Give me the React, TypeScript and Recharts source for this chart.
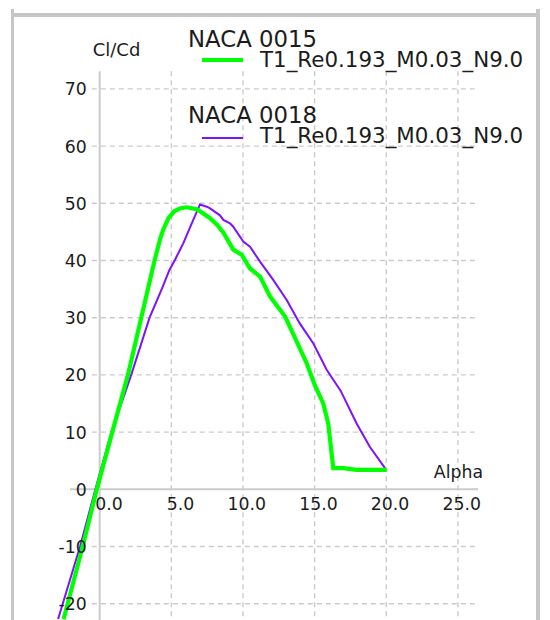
import React from 'react';
import { LineChart, Line, XAxis, YAxis, ReferenceLine, ReferenceDot } from 'recharts';

// polar NACA 0015 (Cl/Cd vs alpha)
const alpha0015 = [-2.6, -1.19, -0.2, 0.88, 1.97, 2.9, 3.83, 4.2, 4.45, 4.8, 5.2, 5.6, 6.07, 6.77, 7.0, 7.7, 8.2, 8.65, 9.32, 9.91, 10.49, 11.19, 11.89, 12.94, 13.75, 14.45, 15.0, 15.6, 15.95, 16.3, 17.0, 17.93, 20.03];
const clcd0015 = [-23.5, -10, 0, 10, 20, 30, 40, 43.6, 45.5, 47.4, 48.6, 49.1, 49.3, 48.95, 48.6, 47.4, 46.2, 44.8, 41.9, 41.0, 38.6, 37.2, 33.7, 30.2, 25.8, 22.0, 18.3, 15.0, 11.5, 3.7, 3.7, 3.4, 3.4];

// polar NACA 0018
const alpha0018 = [-3.0, -1.37, -0.3, 0.82, 2.2, 3.48, 4.33, 4.86, 5.25, 5.83, 6.53, 7.0, 7.47, 7.7, 8.39, 8.63, 9.09, 9.32, 10.02, 10.49, 11.19, 12.11, 13.05, 13.96, 14.91, 15.84, 16.82, 17.93, 18.86, 19.91];
const clcd0018 = [-23.5, -10, 0, 10, 20, 30, 35, 38.3, 40.1, 43.0, 47.1, 49.8, 49.4, 49.1, 47.9, 47.1, 46.5, 45.9, 43.3, 42.4, 39.8, 36.6, 33.1, 29.0, 25.5, 20.9, 17.2, 11.5, 7.4, 3.7];

const xTicks = [0, 5, 10, 15, 20, 25];
const yTicks = [-20, -10, 0, 10, 20, 30, 40, 50, 60, 70];
const foilNames = ['NACA 0015', 'NACA 0018'];
const polarName = 'T1_Re0.193_M0.03_N9.0';
const foilColors = ['#00ff00', '#7d12ff'];

const toRows = (a: number[], v: number[]) => a.map((x, i) => ({ alpha: x, clcd: v[i] }));
const rows0015 = toRows(alpha0015, clcd0015);
const rows0018 = toRows(alpha0018, clcd0018);

// axis view (chart fills the whole 550x620 page)
const X_DOMAIN: [number, number] = [-6.957, 31.424];
const Y_DOMAIN: [number, number] = [-22.85, 85.54];
const X_AXIS_MIN = -2.07;
const X_AXIS_MAX = 26.4;
const Y_AXIS_MAX = 73.1;
const GRID_LEFT = -0.55;

const FONT = '"DejaVu Sans", sans-serif';
const GRID = '#cbcbcb';
const TEXT = '#1c1c1c';

export default function App() {
  return (
    <div style={{ position: 'absolute', left: 0, top: 0, width: 550, height: 620, background: '#fff', overflow: 'hidden' }}>
      {/* frame */}
      <div style={{ position: 'absolute', left: 11, top: 9, width: 3, height: 620, background: '#c6c6c6' }} />
      <div style={{ position: 'absolute', left: 11, top: 13, width: 529, height: 3.5, background: '#c6c6c6' }} />
      <div style={{ position: 'absolute', left: 536, top: 9, width: 3.5, height: 620, background: '#c6c6c6' }} />

      <div style={{ position: 'absolute', left: 0, top: 0 }}>
        <LineChart width={550} height={620} margin={{ top: 0, right: 0, bottom: 0, left: 0 }}>
          <XAxis type="number" dataKey="alpha" domain={X_DOMAIN} allowDataOverflow hide />
          <YAxis type="number" domain={Y_DOMAIN} allowDataOverflow hide />

          {xTicks.filter((t) => t !== 0).map((t) => (
            <ReferenceLine key={'vx' + t} segment={[{ x: t, y: Y_AXIS_MAX }, { x: t, y: Y_DOMAIN[0] }]}
              stroke={GRID} strokeWidth={1.4} strokeDasharray="5 4" ifOverflow="visible" />
          ))}
          {yTicks.filter((v) => v !== 0).map((v) => (
            <ReferenceLine key={'hy' + v} segment={[{ x: GRID_LEFT, y: v }, { x: X_AXIS_MAX, y: v }]}
              stroke={GRID} strokeWidth={1.4} strokeDasharray="5 4" ifOverflow="visible" />
          ))}
          <ReferenceLine segment={[{ x: X_AXIS_MIN, y: 0 }, { x: X_AXIS_MAX, y: 0 }]} stroke={GRID} strokeWidth={2} ifOverflow="visible" />
          <ReferenceLine segment={[{ x: 0, y: Y_AXIS_MAX }, { x: 0, y: Y_DOMAIN[0] }]} stroke={GRID} strokeWidth={2} ifOverflow="visible" />

          {xTicks.map((t) => (
            <ReferenceDot key={'lx' + t} x={t} y={0} r={0} ifOverflow="visible"
              shape={(p: any) => (
                <text x={p.cx + 23} y={p.cy + 21} textAnchor="end" fontFamily={FONT} fontSize={17.3} fill={TEXT}>{t.toFixed(1)}</text>
              )} />
          ))}
          {yTicks.map((v) => (
            <ReferenceDot key={'ly' + v} x={0} y={v} r={0} ifOverflow="visible"
              shape={(p: any) => (
                <text x={p.cx - 13} y={p.cy + 6.5} textAnchor="end" fontFamily={FONT} fontSize={17.3} fill={TEXT}>{v}</text>
              )} />
          ))}
          <ReferenceDot x={0} y={Y_AXIS_MAX} r={0} ifOverflow="visible"
            shape={(p: any) => (
              <text x={p.cx - 7} y={p.cy - 15} fontFamily={FONT} fontSize={18} fill={TEXT}>Cl/Cd</text>
            )} />
          <ReferenceDot x={X_AXIS_MAX} y={0} r={0} ifOverflow="visible"
            shape={(p: any) => (
              <text x={p.cx + 5} y={p.cy - 11} textAnchor="end" fontFamily={FONT} fontSize={17.3} fill={TEXT}>Alpha</text>
            )} />

          <Line data={rows0018} dataKey="clcd" type="linear" stroke={foilColors[1]} strokeWidth={2} dot={false} isAnimationActive={false} />
          <Line data={rows0015} dataKey="clcd" type="linear" stroke={foilColors[0]} strokeWidth={4.2} dot={false} isAnimationActive={false} />
        </LineChart>
      </div>

      {/* legend */}
      <svg width={550} height={160} style={{ position: 'absolute', left: 0, top: 0, pointerEvents: 'none' }}>
        {foilNames.map((name, i) => {
          const top = i * 77;
          return (
            <g key={name}>
              <text x={188} y={47 + top - (i ? 1 : 0)} fontFamily={FONT} fontSize={22.8} fill={TEXT}>{name}</text>
              <line x1={202} x2={243} y1={60 + top + (i ? 1 : 0)} y2={60 + top + (i ? 1 : 0)} stroke={foilColors[i]} strokeWidth={i ? 2 : 4.2} />
              <text x={260} y={67 + top - (i ? 1 : 0)} fontFamily={FONT} fontSize={21.4} fill={TEXT}>{polarName}</text>
            </g>
          );
        })}
      </svg>
    </div>
  );
}
